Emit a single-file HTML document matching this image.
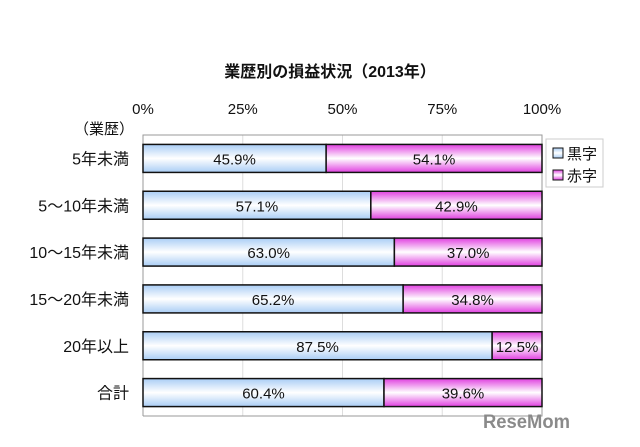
<!DOCTYPE html>
<html><head><meta charset="utf-8"><style>
body{margin:0;background:#fff;}
svg text{font-family:"Liberation Sans","Noto Sans CJK JP",sans-serif;}
</style></head><body>
<svg width="640" height="442" viewBox="0 0 640 442">
<defs>
<linearGradient id="gb" x1="0" y1="0" x2="0" y2="1">
<stop offset="0" stop-color="#a9cdf5"/><stop offset="0.5" stop-color="#ffffff"/><stop offset="1" stop-color="#a9cdf5"/></linearGradient>
<linearGradient id="gp" x1="0" y1="0" x2="0" y2="1">
<stop offset="0" stop-color="#e040e0"/><stop offset="0.5" stop-color="#ffffff"/><stop offset="1" stop-color="#e040e0"/></linearGradient>
</defs>
<text x="330" y="77" text-anchor="middle" font-size="16" font-weight="bold" fill="#111">業歴別の損益状況（2013年）</text>
<text x="104" y="134" text-anchor="middle" font-size="15" fill="#111">（業歴）</text>
<g id="plot"></g>
<g>
<rect x="546" y="139" width="57" height="48" fill="#fff" stroke="#ccc"/>
<rect x="553" y="148" width="10" height="10" fill="url(#gb)" stroke="#111"/>
<text x="567" y="159" font-size="15" fill="#111">黒字</text>
<rect x="553" y="170" width="10" height="10" fill="url(#gp)" stroke="#111"/>
<text x="567" y="181" font-size="15" fill="#111">赤字</text>
</g>
<text x="483" y="428" font-size="19" font-weight="bold" fill="#8a8a8a" textLength="87" lengthAdjust="spacingAndGlyphs">ReseMom</text>
</svg>
<script>
const categories=["5年未満","5～10年未満","10～15年未満","15～20年未満","20年以上","合計"];
const blackVals=[45.9,57.1,63.0,65.2,87.5,60.4];
const redVals=[54.1,42.9,37.0,34.8,12.5,39.6];
const ticks=[0,25,50,75,100];
const L=143,R=542,T=135,B=416;
const xs=v=>L+(R-L)*v/100;
const band=(B-T)/categories.length;
const yc=i=>T+band*(i+0.5);
const NS="http://www.w3.org/2000/svg";
const g=document.getElementById('plot');
function mk(t,a){const e=document.createElementNS(NS,t);for(const k in a)e.setAttribute(k,a[k]);g.appendChild(e);return e;}
ticks.forEach((t,i)=>{
 if(t>0&&t<100){const l=mk('line',{x1:xs(t),x2:xs(t),y1:T,y2:B,stroke:'#ddd'});
 
 }
 const tx=mk('text',{x:xs(t),y:114,'text-anchor':'middle','font-size':15,fill:'#111'});tx.textContent=t+'%';
 
 
});
const ax=mk('path',{d:`M${L},${B}V${T}H${R}V${B}H${L}`,fill:'none',stroke:'#999'});


const bh=28;
categories.forEach((c,i)=>{
 const y=yc(i);
 const lab=mk('text',{x:129,y:y+6,'text-anchor':'end','font-size':16,fill:'#111'});lab.textContent=c;
 
 
 const b=mk('rect',{x:xs(0),y:y-bh/2,width:xs(blackVals[i])-xs(0),height:bh,fill:'url(#gb)',stroke:'#111','stroke-width':1.5});
 
 
 const r=mk('rect',{x:xs(blackVals[i]),y:y-bh/2,width:xs(blackVals[i]+redVals[i])-xs(blackVals[i]),height:bh,fill:'url(#gp)',stroke:'#111','stroke-width':1.5});
 
 
 const t1=mk('text',{x:(xs(0)+xs(blackVals[i]))/2,y:y+6,'text-anchor':'middle','font-size':15,fill:'#111'});t1.textContent=blackVals[i].toFixed(1)+'%';
 
 
 const t2=mk('text',{x:(xs(blackVals[i])+xs(blackVals[i]+redVals[i]))/2,y:y+6,'text-anchor':'middle','font-size':15,fill:'#111'});t2.textContent=redVals[i].toFixed(1)+'%';
 
 
});
</script>
</body></html>
